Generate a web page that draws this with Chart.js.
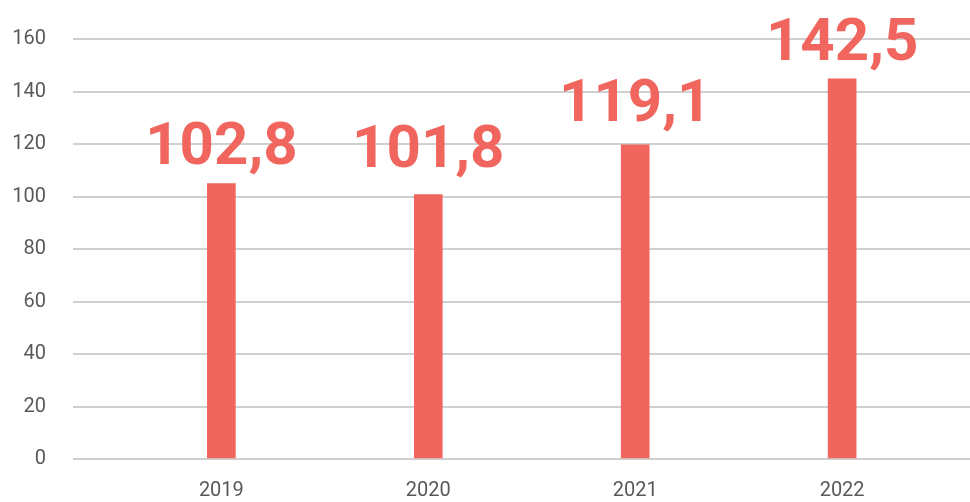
<!DOCTYPE html>
<html lang="en">
<head>
    <meta charset="UTF-8">
    <title>Bar chart 2019-2022</title>
    <script src="https://cdn.jsdelivr.net/npm/chart.js"></script>
</head>
<style>
    body {
    margin: 0;
    background: #ffffff;
}

.wrap {
    width: 970px;
    height: 502px;
}
</style>
<body>
    <div class="wrap">
        <canvas id="chart" width="970" height="502"></canvas>
    </div>
    <script>
    // data
    const years = [2019, 2020, 2021, 2022];
    const barValues = [104.9, 100.7, 119.7, 144.8];   // bar heights as drawn
    const labelValues = [102.8, 101.8, 119.1, 142.5]; // printed values
    const labelTexts = ['102,8', '101,8', '119,1', '142,5'];
    const yTicks = [0, 20, 40, 60, 80, 100, 120, 140, 160];

    const red = 'rgb(240, 102, 94)';

    // big value labels above the bars
    const valueLabels = {
        id: 'valueLabels',
        afterDatasetsDraw(chart) {
            const ctx = chart.ctx;
            const y = chart.scales.y;
            const bars = chart.getDatasetMeta(0).data;
            ctx.save();
            ctx.font = 'bold 60px Roboto';
            ctx.fillStyle = red;
            ctx.textAlign = 'center';
            ctx.textBaseline = 'alphabetic';
            bars.forEach((bar, i) => {
                ctx.fillText(labelTexts[i], bar.x, y.getPixelForValue(labelValues[i]) - 25);
            });
            ctx.restore();
        }
    };

    const ctx = document.getElementById('chart').getContext('2d');
    new Chart(ctx, {
        type: 'bar',
        data: {
            datasets: [{
                data: years.map((yr, i) => ({ x: yr, y: barValues[i] })),
                backgroundColor: red,
                borderWidth: 0,
                barThickness: 28
            }]
        },
        options: {
            responsive: false,
            animation: false,
            layout: { padding: { top: 38, right: 0, left: 0, bottom: 0 } },
            plugins: {
                legend: { display: false },
                tooltip: { enabled: false }
            },
            scales: {
                x: {
                    type: 'linear',
                    offset: false,
                    min: 2018.283,
                    max: 2022.618,
                    afterBuildTicks: s => { s.ticks = years.map(v => ({ value: v })); },
                    grid: { display: false, drawTicks: false, offset: false },
                    border: { display: false },
                    afterFit: s => { s.height = 43; },
                    ticks: {
                        padding: 20,
                        color: '#595959',
                        font: { family: 'Roboto', size: 20 },
                        callback: v => String(v)
                    }
                },
                y: {
                    min: 0,
                    max: 160,
                    afterBuildTicks: s => { s.ticks = yTicks.map(v => ({ value: v })); },
                    grid: { color: '#d0d0d0', lineWidth: 2, drawTicks: false },
                    border: { display: false },
                    afterFit: s => { s.width = 73; },
                    ticks: {
                        padding: 27,
                        color: '#595959',
                        font: { family: 'Roboto', size: 20 }
                    }
                }
            }
        },
        plugins: [valueLabels]
    });
    </script>
</body>
</html>
